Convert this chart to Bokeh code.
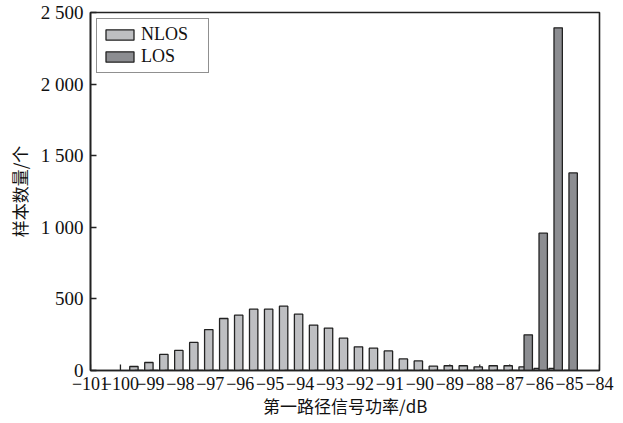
from bokeh.plotting import figure
from bokeh.models import Range1d, FixedTicker, Legend, LegendItem
from bokeh.embed import file_html
from bokeh.resources import INLINE

# ---- data ----
bins = [-99.5, -99.0, -98.5, -98.0, -97.5, -97.0, -96.5, -96.0, -95.5, -95.0,
        -94.5, -94.0, -93.5, -93.0, -92.5, -92.0, -91.5, -91.0, -90.5, -90.0,
        -89.5, -89.0, -88.5, -88.0, -87.5, -87.0, -86.5, -86.0, -85.5, -85.0]
nlos = [28, 56, 112, 140, 196, 286, 363, 386, 428, 428,
        449, 393, 317, 296, 226, 165, 156, 137, 81, 67,
        30, 33, 33, 26, 33, 33, 26, 14, 14, 0]
los = [0, 0, 0, 0, 0, 0, 0, 0, 0, 0,
       0, 0, 0, 0, 0, 0, 0, 0, 0, 0,
       0, 0, 0, 0, 0, 0, 249, 959, 2393, 1380]
x_ticks = list(range(-101, -83))
y_ticks = [0, 500, 1000, 1500, 2000, 2500]
y_tick_labels = ["0", "500", "1 000", "1 500", "2 000", "2 500"]
series_names = ["NLOS", "LOS"]
x_title = "第一路径信号功率/dB"
y_title = "样本数量/个"

nlos_x = [b - 0.05 for b in bins]
los_x = [b + 0.12 for b in bins]

p = figure(width=623, height=423, output_backend="svg", toolbar_location=None,
           x_range=Range1d(-101, -84), y_range=Range1d(0, 2500),
           min_border_left=90, min_border_right=24, min_border_top=12,
           min_border_bottom=53)

# inward x ticks, drawn beneath the bars (bars hide them, as in the original)
tick_len = 42
p.segment(x0=x_ticks, y0=[0] * len(x_ticks), x1=x_ticks, y1=[tick_len] * len(x_ticks),
          line_color="#222222", line_width=1.3)

r1 = p.vbar(x=nlos_x, top=nlos, width=0.28, bottom=0,
            fill_color="#bebfc2", line_color="#222222", line_width=1.3)
r2 = p.vbar(x=los_x, top=los, width=0.28, bottom=0,
            fill_color="#8c8d91", line_color="#222222", line_width=1.3)

p.grid.visible = False
p.outline_line_color = "#222222"
p.outline_line_width = 1.6

serif = "Liberation Serif"
for ax in (p.xaxis[0], p.yaxis[0]):
    ax.axis_line_color = "#222222"
    ax.axis_line_width = 1.6
    ax.major_tick_line_color = "#222222"
    ax.major_tick_line_width = 1.3
    ax.major_tick_in = 6
    ax.major_tick_out = 0
    ax.minor_tick_line_color = None
    ax.major_label_text_font = serif
    ax.major_label_text_font_size = "19px"
    ax.major_label_text_color = "#111111"
    ax.axis_label_text_font = "Noto Sans CJK SC"
    ax.axis_label_text_font_size = "17px"
    ax.axis_label_text_font_style = "normal"
    ax.axis_label_text_color = "#111111"

p.xaxis.ticker = FixedTicker(ticks=x_ticks)
p.xaxis.major_tick_in = 0
p.xaxis.major_label_text_font_size = "18px"
p.xaxis.major_label_overrides = {t: "\u2212" + str(abs(t)) for t in x_ticks}
p.xaxis.major_label_standoff = 6
p.xaxis.axis_label = x_title
p.xaxis.axis_label_standoff = 0

p.yaxis.ticker = FixedTicker(ticks=y_ticks)
p.yaxis.major_label_overrides = dict(zip(y_ticks, y_tick_labels))
p.yaxis.major_label_standoff = 7
p.yaxis.axis_label = y_title
p.yaxis.axis_label_standoff = 6

legend = Legend(items=[LegendItem(label=series_names[0], renderers=[r1]),
                       LegendItem(label=series_names[1], renderers=[r2])],
                location="top_left", margin=6, padding=5, spacing=1,
                glyph_width=35, glyph_height=13, label_height=17,
                label_width=62, label_standoff=4,
                label_text_font=serif, label_text_font_size="18px",
                label_text_color="#111111",
                border_line_color="#222222", border_line_width=1.3,
                background_fill_alpha=1.0)
p.add_layout(legend)

open("out.html", "w").write(file_html(p, INLINE))
